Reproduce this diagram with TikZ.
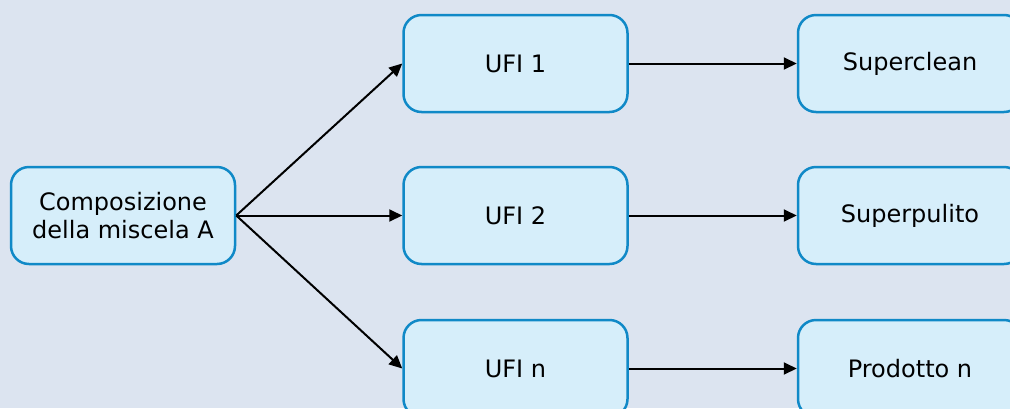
\documentclass[tikz,border=0pt]{standalone}
\usepackage{fontspec}
\setmainfont{DejaVu Sans}
\usepackage{xcolor}
\usetikzlibrary{arrows.meta}
\definecolor{bgblue}{RGB}{220,228,240}
\definecolor{boxfill}{RGB}{214,238,250}
\definecolor{boxline}{RGB}{16,137,199}
\tikzstyle{box} = [rectangle, rounded corners=18pt, minimum width=224pt, minimum height=97pt, text centered, align=center, draw=boxline, line width=2.5pt, fill=boxfill, font=\fontsize{24}{28}\selectfont]
\tikzstyle{arrow} = [line width=2pt, -{Triangle[length=13pt,width=12pt]}]

\begin{document}
\begin{tikzpicture}[x=1pt,y=-1pt]
\useasboundingbox (0,0) rectangle (1010,408);
\fill [bgblue] (0,0) rectangle (1010,408);
\clip (0,0) rectangle (1010,408);
\draw (123,215.5) node (mix) [box] {Composizione\\della miscela A};
\draw (515.5,63.5) node (ufi1) [box] {UFI 1};
\draw (515.5,215.5) node (ufi2) [box] {UFI 2};
\draw (515.5,368.5) node (ufin) [box] {UFI n};
\draw (910,63.5) node (prod1) [box] {Superclean};
\draw (910,215.5) node (prod2) [box] {Superpulito};
\draw (910,368.5) node (prodn) [box] {Prodotto n};
\draw [arrow] (mix.east)--(ufi1.west);
\draw [arrow] (mix.east)--(ufi2.west);
\draw [arrow] (mix.east)--(ufin.west);
\draw [arrow] (ufi1.east)--(prod1.west);
\draw [arrow] (ufi2.east)--(prod2.west);
\draw [arrow] (ufin.east)--(prodn.west);
\end{tikzpicture}
\end{document}
